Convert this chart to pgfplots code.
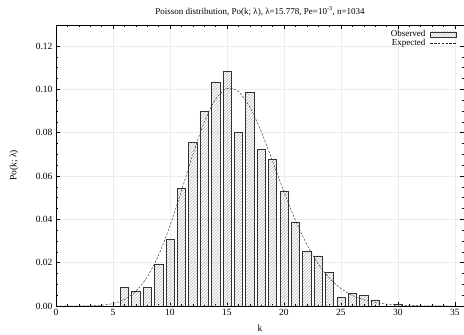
\documentclass[border=0pt]{standalone}
\usepackage{fontspec}
\setmainfont{Liberation Serif}
\usepackage{pgfplots}
\pgfplotsset{compat=1.18}
\usetikzlibrary{patterns}
\begin{document}
\begin{tikzpicture}
\begin{axis}[
  at={(0pt,0pt)}, anchor=south west,
  scale only axis,
  width=408pt, height=281pt,
  xmin=0, xmax=35.8, ymin=0, ymax=0.1297,
  xtick={0,5,...,35}, ytick={0,0.02,...,0.121},
  minor x tick num=4, minor y tick num=3,
  tick align=inside,
  major tick length=4pt, minor tick length=2pt,
  tick style={black, thin},
  axis line style={black, thin},
  grid=major, grid style={gray!15, thin},
  yticklabel style={/pgf/number format/.cd, fixed, fixed zerofill, precision=2},
  /pgf/number format/assume math mode=true,
  ticklabel style={font=\fontsize{9.5}{10}\selectfont},
  label style={font=\fontsize{9.5}{10}\selectfont},
  title style={font=\fontsize{9}{10}\selectfont, yshift=-1pt},
  title={Poisson distribution, Po(k; λ), λ=15.778, Pe=10\textsuperscript{-3}, n=1034},
  xlabel={k}, ylabel={Po(k; λ)},
  xlabel style={yshift=-2pt},
  ylabel style={anchor=south, at={(-34pt,140.5pt)}},
  legend style={draw=none, fill=none, font=\fontsize{9}{9}\selectfont, at={(0.985,0.992)}, anchor=north east, row sep=-3pt, inner sep=1pt,
    /tikz/every odd column/.append style={column sep=3pt}},
  legend cell align=right, legend plot pos=right,
]
\addplot[ybar, bar width=0.73, draw=black!80, thin, pattern=north east lines, pattern color=gray!55,
  legend image code/.code={\draw[draw=black!80, thin, pattern=north east lines, pattern color=gray!55] (0pt,-2.5pt) rectangle (26pt,2.5pt);}] coordinates {
(6,0.0087) (7,0.0068) (8,0.0087) (9,0.0193) (10,0.0309) (11,0.0542) (12,0.0754)
(13,0.0899) (14,0.1035) (15,0.1083) (16,0.0803) (17,0.0986) (18,0.0725) (19,0.0677)
(20,0.0532) (21,0.0387) (22,0.0251) (23,0.0232) (24,0.0155) (25,0.0039) (26,0.0058)
(27,0.0048) (28,0.0029) (30,0.0010)
};
\addlegendentry{Observed}
\addplot[black!85, thin, dash pattern=on 2.4pt off 1.4pt, smooth, tension=0.5,
  legend image code/.code={\draw[black!85, thin, dash pattern=on 2.4pt off 1.4pt] (0pt,0pt) -- (26pt,0pt);}] coordinates {
(0,0.00000014) (1,0.0000022) (2,0.0000175) (3,0.000092) (4,0.000363) (5,0.001144)
(6,0.003009) (7,0.006783) (8,0.01338) (9,0.02345) (10,0.03700) (11,0.05307)
(12,0.06978) (13,0.08469) (14,0.09545) (15,0.1004) (16,0.0990) (17,0.0919)
(18,0.0806) (19,0.0669) (20,0.0528) (21,0.0397) (22,0.02846) (23,0.01952)
(24,0.01283) (25,0.00810) (26,0.00491) (27,0.00287) (28,0.00162) (29,0.00088)
(30,0.000463) (31,0.000236) (32,0.000116) (33,0.0000556) (34,0.0000258) (35,0.0000116)
};
\addlegendentry{Expected}
\end{axis}
\pgfresetboundingbox
\path (-56pt,-29pt) rectangle (408pt,306pt);
\end{tikzpicture}
\end{document}
